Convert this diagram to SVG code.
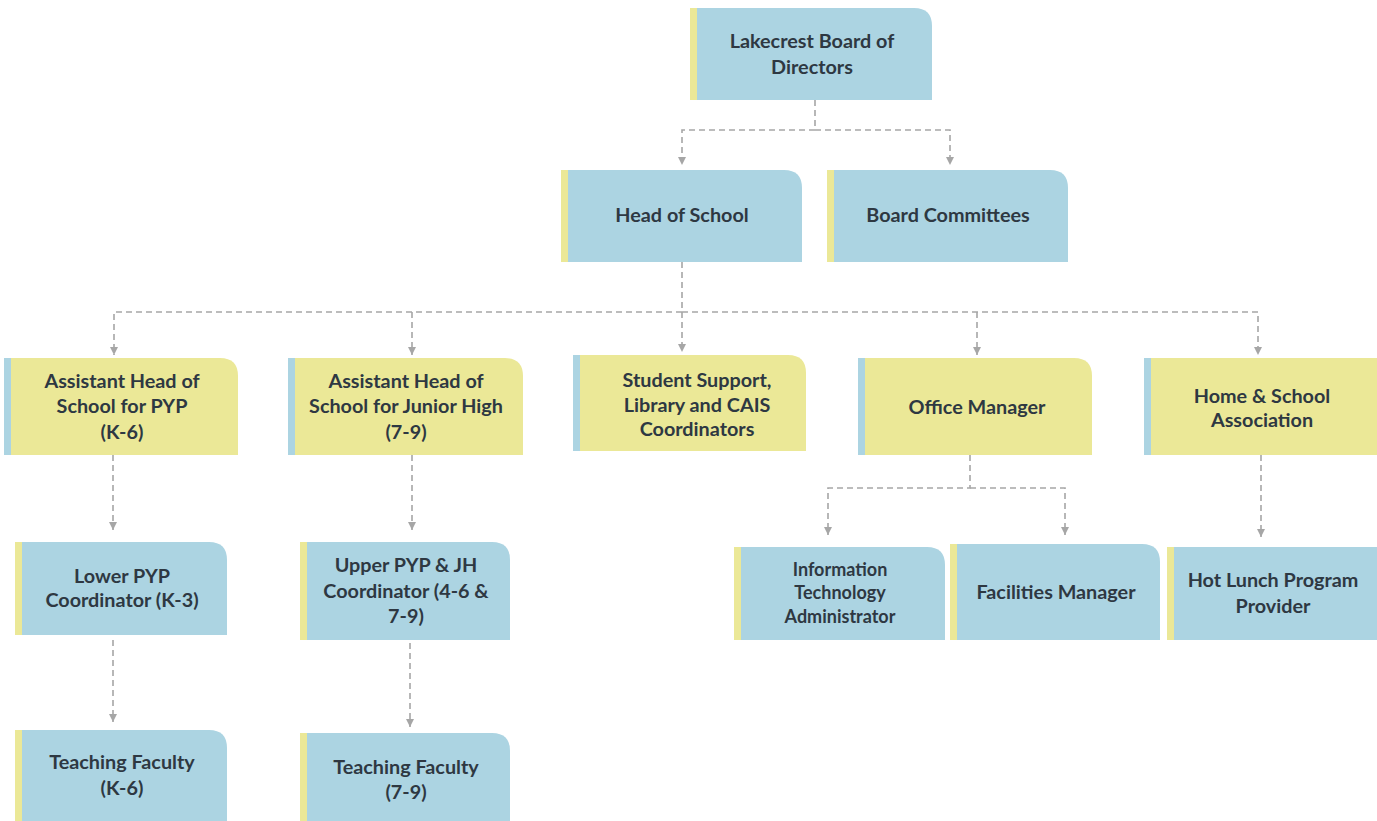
<svg xmlns="http://www.w3.org/2000/svg" width="1377" height="821" viewBox="0 0 1377 821">
<defs>
<style>
.b{fill:#acd4e2}
.y{fill:#ebe897}
.t{font-family:Lato,"Open Sans",sans-serif;font-weight:bold;font-size:19.8px;fill:#2e3842;text-anchor:middle}
.s{font-size:18px}
.c{fill:none;stroke:#a6a6a6;stroke-width:1.6;stroke-dasharray:6 4}
</style>
<marker id="a" viewBox="0 0 10 10" refX="10" refY="5" markerWidth="8" markerHeight="8" markerUnits="userSpaceOnUse" orient="auto">
<path d="M0,0 L10,5 L0,10 Z" fill="#a6a6a6"/>
</marker>
</defs>
<rect width="1377" height="821" fill="#ffffff"/>
<g id="connectors">
<path class="c" d="M815,100 V130 H682 V165" marker-end="url(#a)"/>
<path class="c" d="M815,130 H950 V165" marker-end="url(#a)"/>
<path class="c" d="M682,262 V352" marker-end="url(#a)"/>
<path class="c" d="M682,312 H114 V355" marker-end="url(#a)"/>
<path class="c" d="M412,312 V355" marker-end="url(#a)"/>
<path class="c" d="M682,312 H1258 V355" marker-end="url(#a)"/>
<path class="c" d="M977,312 V355" marker-end="url(#a)"/>
<path class="c" d="M970,455 V488 H828 V535" marker-end="url(#a)"/>
<path class="c" d="M970,488 H1065 V535" marker-end="url(#a)"/>
<path class="c" d="M1261,455 V537" marker-end="url(#a)"/>
<path class="c" d="M113,455 V530" marker-end="url(#a)"/>
<path class="c" d="M412,455 V530" marker-end="url(#a)"/>
<path class="c" d="M113,640 V722" marker-end="url(#a)"/>
<path class="c" d="M410,643 V727" marker-end="url(#a)"/>
</g>
<g id="board">
<path class="b" d="M690,8 H914 Q932,8 932,26 V100 H690 Z"/>
<rect class="y" x="690" y="8" width="7" height="92"/>
<text class="t" x="812" y="48">Lakecrest Board of</text>
<text class="t" x="812" y="74">Directors</text>
</g>
<g id="head">
<path class="b" d="M561,170 H784 Q802,170 802,188 V262 H561 Z"/>
<rect class="y" x="561" y="170" width="7" height="92"/>
<text class="t" x="682" y="222">Head of School</text>
</g>
<g id="committees">
<path class="b" d="M827,170 H1050 Q1068,170 1068,188 V262 H827 Z"/>
<rect class="y" x="827" y="170" width="7" height="92"/>
<text class="t" x="948" y="222">Board Committees</text>
</g>
<g id="ahpyp">
<path class="y" d="M4,358 H220 Q238,358 238,376 V455 H4 Z"/>
<rect class="b" x="4" y="358" width="7" height="97"/>
<text class="t" x="122" y="388">Assistant Head of</text>
<text class="t" x="122" y="413">School for PYP</text>
<text class="t" x="122" y="439">(K-6)</text>
</g>
<g id="ahjh">
<path class="y" d="M288,358 H505 Q523,358 523,376 V455 H288 Z"/>
<rect class="b" x="288" y="358" width="7" height="97"/>
<text class="t" x="406" y="388">Assistant Head of</text>
<text class="t" x="406" y="413">School for Junior High</text>
<text class="t" x="406" y="439">(7-9)</text>
</g>
<g id="support">
<path class="y" d="M573,355 H788 Q806,355 806,373 V451 H573 Z"/>
<rect class="b" x="573" y="355" width="7" height="96"/>
<text class="t" x="697" y="387">Student Support,</text>
<text class="t" x="697" y="412">Library and CAIS</text>
<text class="t" x="697" y="436">Coordinators</text>
</g>
<g id="office">
<path class="y" d="M858,358 H1074 Q1092,358 1092,376 V455 H858 Z"/>
<rect class="b" x="858" y="358" width="7" height="97"/>
<text class="t" x="977" y="414">Office Manager</text>
</g>
<g id="hsa">
<path class="y" d="M1144,358 H1377 V455 H1144 Z"/>
<rect class="b" x="1144" y="358" width="7" height="97"/>
<text class="t" x="1262" y="403">Home &amp; School</text>
<text class="t" x="1262" y="427">Association</text>
</g>
<g id="it">
<path class="b" d="M734,547 H927 Q945,547 945,565 V640 H734 Z"/>
<rect class="y" x="734" y="547" width="7" height="93"/>
<text class="t s" x="840" y="576">Information</text>
<text class="t s" x="840" y="599">Technology</text>
<text class="t s" x="840" y="623">Administrator</text>
</g>
<g id="facilities">
<path class="b" d="M950,544 H1142 Q1160,544 1160,562 V640 H950 Z"/>
<rect class="y" x="950" y="544" width="7" height="96"/>
<text class="t" x="1056" y="599">Facilities Manager</text>
</g>
<g id="lunch">
<path class="b" d="M1167,547 H1377 V640 H1167 Z"/>
<rect class="y" x="1167" y="547" width="7" height="93"/>
<text class="t" x="1273" y="587">Hot Lunch Program</text>
<text class="t" x="1273" y="613">Provider</text>
</g>
<g id="lowerpyp">
<path class="b" d="M15,542 H209 Q227,542 227,560 V635 H15 Z"/>
<rect class="y" x="15" y="542" width="7" height="93"/>
<text class="t" x="122" y="583">Lower PYP</text>
<text class="t" x="122" y="607">Coordinator (K-3)</text>
</g>
<g id="upperpyp">
<path class="b" d="M300,542 H492 Q510,542 510,560 V640 H300 Z"/>
<rect class="y" x="300" y="542" width="7" height="98"/>
<text class="t" x="406" y="572">Upper PYP &amp; JH</text>
<text class="t" x="406" y="598">Coordinator (4-6 &amp;</text>
<text class="t" x="406" y="623">7-9)</text>
</g>
<g id="teachk6">
<path class="b" d="M15,730 H209 Q227,730 227,748 V821 H15 Z"/>
<rect class="y" x="15" y="730" width="7" height="91"/>
<text class="t" x="122" y="769">Teaching Faculty</text>
<text class="t" x="122" y="795">(K-6)</text>
</g>
<g id="teach79">
<path class="b" d="M300,733 H492 Q510,733 510,751 V821 H300 Z"/>
<rect class="y" x="300" y="733" width="7" height="88"/>
<text class="t" x="406" y="774">Teaching Faculty</text>
<text class="t" x="406" y="799">(7-9)</text>
</g>
</svg>
